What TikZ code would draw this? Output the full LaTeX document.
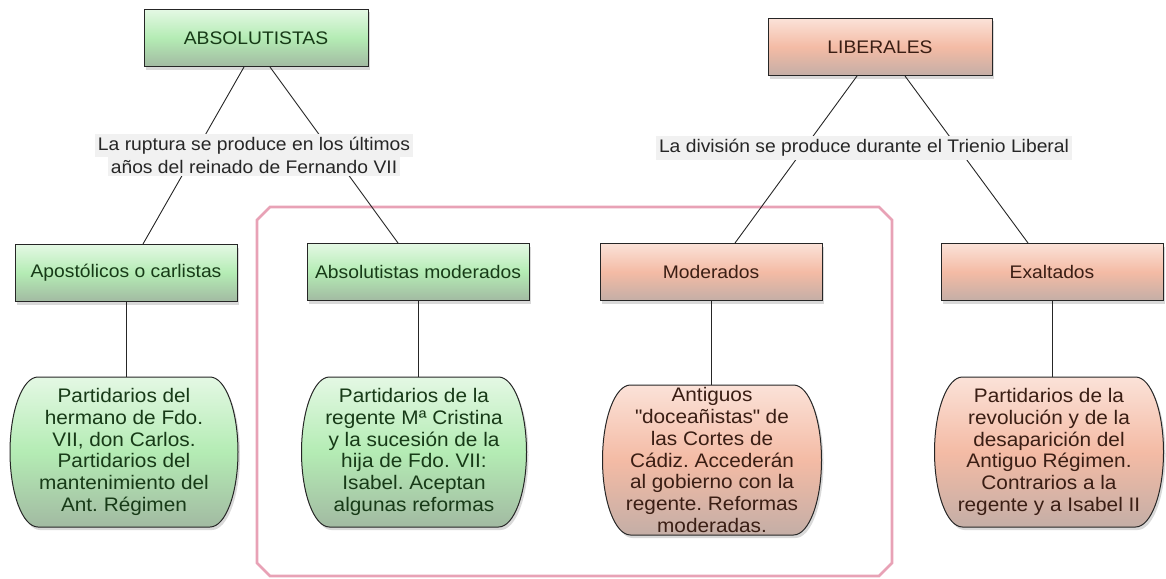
\documentclass[tikz,border=0pt]{standalone}
\usepackage{fontspec}
\setmainfont{Liberation Sans}[FakeStretch=1.06]
\usetikzlibrary{calc}
\usetikzlibrary{positioning}
\usetikzlibrary{shadows}
\frenchspacing

\definecolor{grnA}{HTML}{E4F8E4}
\definecolor{grnB}{HTML}{B4ECB4}
\definecolor{grnC}{HTML}{A2BAA2}
\definecolor{grnT}{HTML}{173A17}
\definecolor{orgA}{HTML}{FBE2D8}
\definecolor{orgB}{HTML}{F4BBA5}
\definecolor{orgC}{HTML}{C4AEA6}
\definecolor{orgT}{HTML}{3A1E14}
\definecolor{frame}{HTML}{E8A2B6}
\definecolor{lblbg}{HTML}{F1F1F1}

\begin{document}
\begin{tikzpicture}
	[
	x=1pt, y=-1pt,
	every node/.style={font=\fontsize{18.2}{18.8}\selectfont},
	shade/.style = {drop shadow={opacity=.3,shadow xshift=2pt,shadow yshift=-3pt}},
	box/.style = {draw=black!85, line width=1pt, minimum width=222pt, minimum height=57pt, shade},
	note/.style = {align=center, inner sep=0pt, minimum height=150pt, font=\fontsize{19.6}{21.8}\selectfont},
	grn/.style = {top color=grnA, bottom color=grnC, middle color=grnB, text=grnT},
	org/.style = {top color=orgA, bottom color=orgC, middle color=orgB, text=orgT},
	cut/.style = {align=center, inner sep=0pt, text=black!85, font=\fontsize{18.2}{23}\selectfont},
	link/.style = {draw=black!85, line width=.9pt}
	]
	\useasboundingbox (0,0) rectangle (1166,578);

	% pink frame round the two moderate groups
	\draw[frame, line width=2.6pt] (257,220) -- (270,207) -- (879,207) -- (892,220) -- (892,563) -- (879,576) -- (270,576) -- (257,563) -- cycle;

	% rounded outlines of the four notes (centre x/y, width, height)
	\foreach \cx/\cy/\w/\h/\tone in {124/452/228/150/grn, 414/452/225/150/grn, 712/460/219/150/org, 1049/452/229/150/org}
		\path[\tone, shade, draw=black!85, line width=1pt]
			(\cx-\w/2+28, \cy-\h/2) -- (\cx+\w/2-28, \cy-\h/2)
			arc[start angle=-90, end angle=90, x radius=28, y radius=\h/2]
			-- (\cx-\w/2+28, \cy+\h/2)
			arc[start angle=90, end angle=270, x radius=28, y radius=\h/2] -- cycle;

	\coordinate (a0) at (256,38);
	\coordinate (l0) at (880,47);
	\coordinate (a1) at (126,273);
	\coordinate (a2) at (418,272);
	\coordinate (l1) at (711,272);
	\coordinate (l2) at (1052,272);

	\node[box, grn, minimum width=224pt] (absol) at (a0) {ABSOLUTISTAS};
	\node[box, org, minimum width=224pt] (liber) at (l0) {LIBERALES};

	\node[box, grn] (apost) at (a1) {Apostólicos o carlistas};
	\node[box, grn] (absmod) at (a2) {Absolutistas moderados};
	\node[box, org] (moder) at (l1) {Moderados};
	\node[box, org] (exalt) at (l2) {Exaltados};

	\node[note, text=grnT, minimum width=228pt] (partA) at (124,452)
		{Partidarios del\\hermano de Fdo.\\VII, don Carlos.\\Partidarios del\\mantenimiento del\\Ant. Régimen};
	\node[note, text=grnT, minimum width=225pt] (partB) at (414,452)
		{Partidarios de la\\regente Mª Cristina\\y la sucesión de la\\hija de Fdo. VII:\\Isabel. Aceptan\\algunas reformas};
	\node[note, text=orgT, minimum width=219pt] (partC) at (712,460)
		{Antiguos\\\textquotedbl doceañistas\textquotedbl{} de\\las Cortes de\\Cádiz. Accederán\\al gobierno con la\\regente. Reformas\\moderadas.};
	\node[note, text=orgT, minimum width=229pt] (partD) at (1049,452)
		{Partidarios de la\\revolución y de la\\desaparición del\\Antiguo Régimen.\\Contrarios a la\\regente y a Isabel II};

	\draw[link] ($(absol.south)+(-12,0)$) -- ($(apost.north)+(17,0)$);
	\draw[link] ($(absol.south)+(14,0)$) -- ($(absmod.north)+(-20,0)$);
	\draw[link] ($(liber.south)+(-23,0)$) -- ($(moder.north)+(24,0)$);
	\draw[link] ($(liber.south)+(25,0)$) -- ($(exalt.north)+(-24,0)$);

	\draw[link] (apost.south) -- (apost.south |- partA.north);
	\draw[link] (absmod.south) -- (absmod.south |- partB.north);
	\draw[link] (moder.south) -- (moder.south |- partC.north);
	\draw[link] (exalt.south) -- (exalt.south |- partD.north);

	\node[cut] (cutA) at (254,155)
		{\colorbox{lblbg}{La ruptura se produce en los últimos}\\\colorbox{lblbg}{años del reinado de Fernando VII}};
	\node[cut] (cutL) at (864,148)
		{\colorbox{lblbg}{La división se produce durante el Trienio Liberal}};
\end{tikzpicture}
\end{document}
